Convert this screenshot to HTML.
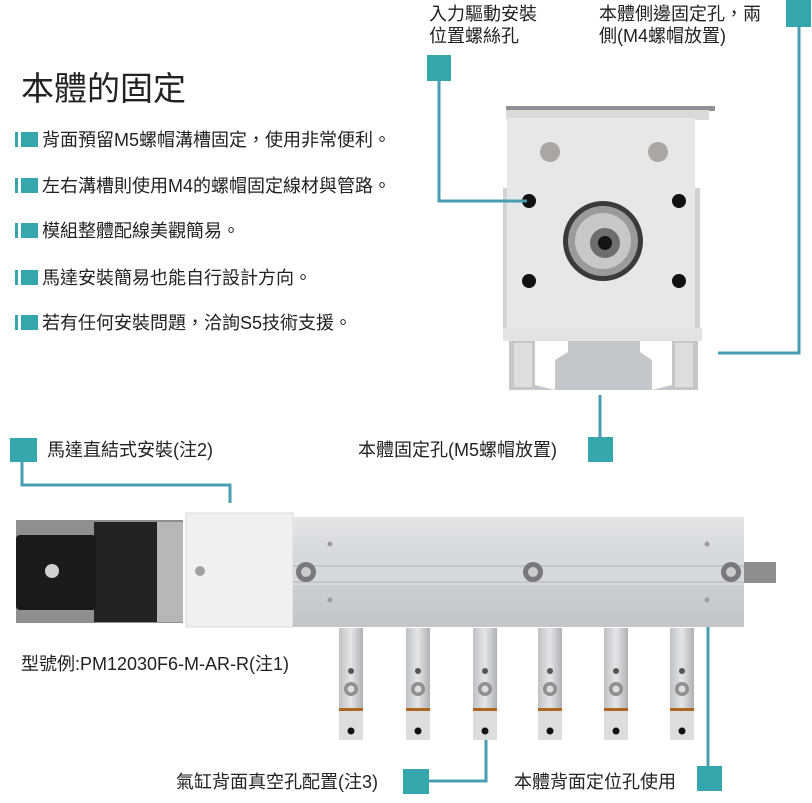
<!DOCTYPE html>
<html><head><meta charset="utf-8"><style>
html,body{margin:0;padding:0;background:#fff;}
svg{display:block;}
text{font-family:"Liberation Sans","Noto Sans CJK TC",sans-serif;fill:#222;}
</style></head><body>
<svg width="812" height="803" viewBox="0 0 812 803" xmlns="http://www.w3.org/2000/svg">
<defs>
<linearGradient id="al" x1="0" y1="0" x2="0" y2="1"><stop offset="0" stop-color="#e4e6e8"/><stop offset="0.5" stop-color="#cfd2d5"/><stop offset="1" stop-color="#c3c6c9"/></linearGradient>
<linearGradient id="fg" x1="0" y1="0" x2="1" y2="0"><stop offset="0" stop-color="#bfc2c5"/><stop offset="0.5" stop-color="#e3e5e7"/><stop offset="1" stop-color="#aeb1b4"/></linearGradient>
</defs>
<text x="21" y="100" font-size="33">本體的固定</text>
<g font-size="18">
<g fill="#36a6ad"><rect x="15" y="132" width="3" height="15"/><rect x="21" y="132" width="17" height="15"/>
<rect x="15" y="178" width="3" height="15"/><rect x="21" y="178" width="17" height="15"/>
<rect x="15" y="223" width="3" height="15"/><rect x="21" y="223" width="17" height="15"/>
<rect x="15" y="270" width="3" height="15"/><rect x="21" y="270" width="17" height="15"/>
<rect x="15" y="315" width="3" height="15"/><rect x="21" y="315" width="17" height="15"/></g>
<text x="42" y="146">背面預留M5螺帽溝槽固定，使用非常便利。</text>
<text x="42" y="192">左右溝槽則使用M4的螺帽固定線材與管路。</text>
<text x="42" y="237">模組整體配線美觀簡易。</text>
<text x="42" y="284">馬達安裝簡易也能自行設計方向。</text>
<text x="42" y="329">若有任何安裝問題，洽詢S5技術支援。</text>
<text x="429" y="20">入力驅動安裝</text>
<text x="429" y="42">位置螺絲孔</text>
<text x="599" y="20">本體側邊固定孔，兩</text>
<text x="599" y="42">側(M4螺帽放置)</text>
<text x="47" y="456">馬達直結式安裝(注2)</text>
<text x="358" y="456">本體固定孔(M5螺帽放置)</text>
<text x="21" y="670">型號例:PM12030F6-M-AR-R(注1)</text>
<text x="176" y="788">氣缸背面真空孔配置(注3)</text>
<text x="514" y="788">本體背面定位孔使用</text>
</g>
<!-- front view -->
<rect x="506" y="106" width="209" height="5" fill="#8f9194"/>
<rect x="506" y="110" width="203" height="10" fill="#d8dadc"/>
<rect x="503" y="188" width="10" height="140" fill="#d0d3d6"/>
<rect x="690" y="188" width="10" height="140" fill="#d0d3d6"/>
<rect x="507" y="118" width="188" height="212" fill="#e6e7e9"/>
<circle cx="550" cy="152" r="10" fill="#a9a6a3"/><circle cx="658" cy="152" r="10" fill="#a9a6a3"/>
<circle cx="529" cy="201" r="7" fill="#111"/><circle cx="679" cy="201" r="7" fill="#111"/>
<circle cx="529" cy="281" r="7" fill="#111"/><circle cx="679" cy="281" r="7" fill="#111"/>
<circle cx="603" cy="241" r="40" fill="#3a3a3a"/><circle cx="603" cy="241" r="35" fill="#9a9b9d"/>
<circle cx="603" cy="241" r="28" fill="#c9c8c8"/><circle cx="605" cy="243" r="15" fill="#6d6e70"/><circle cx="605" cy="243" r="7" fill="#151515"/>
<rect x="503" y="328" width="199" height="13" fill="#e2e3e5"/>
<path d="M509 341 H535 V385 L555 390 V360 L568 352 V341 H640 V352 L652 360 V390 L672 385 V341 H698 V390 H509 Z" fill="#c4c7ca"/>
<rect x="514" y="343" width="18" height="44" fill="#dcdee0"/><rect x="675" y="343" width="18" height="44" fill="#dcdee0"/>
<g stroke="#4a9db0" stroke-width="3" fill="none">
<polyline points="439,80 439,201 527,201"/>
<polyline points="799,26 799,353 718,353"/>
<line x1="600" y1="395" x2="600" y2="438"/>
<polyline points="22,462 22,485 230,485 230,503"/>
<polyline points="429,781 486,781 486,733"/>
<line x1="708" y1="600" x2="708" y2="767"/>
</g>
<g fill="#36a6ad">
<rect x="427" y="55" width="24" height="26"/>
<rect x="786" y="0" width="25" height="27"/>
<rect x="588" y="437" width="25" height="25"/>
<rect x="10" y="438" width="27" height="24"/>
<rect x="403" y="769" width="26" height="25"/>
<rect x="697" y="766" width="25" height="25"/>
</g>
<!-- side view -->
<rect x="16" y="520" width="167" height="103" fill="#8d8f91"/>
<rect x="94" y="522" width="63" height="100" fill="#232323"/>
<rect x="16" y="535" width="80" height="75" rx="4" fill="#1a1a1a"/>
<circle cx="52" cy="571" r="7" fill="#cfd0d1"/>
<rect x="157" y="522" width="26" height="100" fill="#b5b7b9"/>
<rect x="186" y="513" width="107" height="114" fill="#f0f0f0" stroke="#d7d8d9"/>
<circle cx="200" cy="571" r="5" fill="#9fa1a3"/>
<rect x="293" y="517" width="451" height="110" fill="url(#al)"/>
<rect x="293" y="558" width="451" height="27" fill="#d6d9dc"/>
<line x1="293" y1="566" x2="744" y2="566" stroke="#b1b4b7"/><line x1="293" y1="582" x2="744" y2="582" stroke="#b1b4b7"/>
<rect x="744" y="562" width="32" height="21" fill="#8c8e90"/>
<g fill="#77797c"><circle cx="306" cy="572" r="10"/><circle cx="533" cy="572" r="10"/><circle cx="731" cy="572" r="10"/></g>
<g fill="#c9cbcd"><circle cx="306" cy="572" r="5"/><circle cx="533" cy="572" r="5"/><circle cx="731" cy="572" r="5"/></g>
<g fill="#9a9c9e"><circle cx="330" cy="544" r="2.5"/><circle cx="707" cy="544" r="2.5"/><circle cx="330" cy="600" r="2.5"/><circle cx="707" cy="600" r="2.5"/></g>
<g id="f">
<rect x="339" y="628" width="24" height="82" fill="url(#fg)"/>
<rect x="339" y="708" width="24" height="3" fill="#b0651e"/>
<rect x="339" y="711" width="24" height="29" fill="#dcdddf"/>
<circle cx="351" cy="671" r="3" fill="#555"/>
<circle cx="351" cy="689" r="7" fill="#8d8f91"/><circle cx="351" cy="689" r="3.5" fill="#ddd"/>
<circle cx="351" cy="731" r="3.5" fill="#111"/>
</g>
<use href="#f" x="67"/><use href="#f" x="134"/><use href="#f" x="199"/><use href="#f" x="265"/><use href="#f" x="331"/>
</svg>
</body></html>
